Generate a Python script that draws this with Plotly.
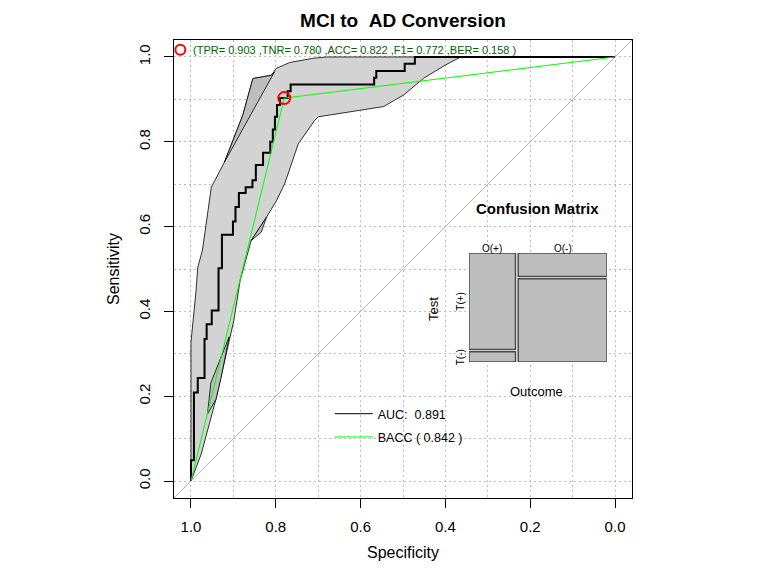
import plotly.graph_objects as go

# ROC curve (step vertices): specificity / sensitivity
roc_spec = [1.0, 0.993, 0.984, 0.968, 0.963, 0.951, 0.935, 0.927, 0.901, 0.895,
            0.887, 0.871, 0.855, 0.847, 0.830, 0.813, 0.807, 0.802, 0.797, 0.790,
            0.772, 0.765, 0.568, 0.563, 0.496, 0.472, 0.0]
roc_sens = [0.0, 0.049, 0.209, 0.243, 0.335, 0.370, 0.402, 0.502, 0.581, 0.612,
            0.646, 0.679, 0.693, 0.709, 0.745, 0.774, 0.800, 0.829, 0.859, 0.887,
            0.903, 0.919, 0.935, 0.951, 0.967, 0.984, 1.0]

# confidence band of sensitivity
ci_upper_spec = [1.0, 1.0, 0.988, 0.984, 0.973, 0.965, 0.952, 0.921, 0.878, 0.854,
                 0.810, 0.799, 0.767, 0.712, 0.68, 0.0]
ci_upper_sens = [0.0, 0.327, 0.449, 0.504, 0.544, 0.603, 0.693, 0.752, 0.862, 0.949,
                 0.957, 0.973, 0.987, 0.997, 1.0, 1.0]
ci_lower_spec = [1.0, 0.976, 0.941, 0.929, 0.899, 0.884, 0.858, 0.822, 0.799, 0.779,
                 0.755, 0.747, 0.708, 0.699, 0.546, 0.499, 0.451, 0.400, 0.364, 0.0]
ci_lower_sens = [0.0, 0.063, 0.193, 0.244, 0.378, 0.473, 0.567, 0.622, 0.660, 0.701,
                 0.772, 0.795, 0.851, 0.859, 0.883, 0.910, 0.950, 0.981, 1.0, 1.0]

# darker overlapping slivers of the band
patches = [
    ([0.921, 0.878, 0.854, 0.810, 0.803], [0.752, 0.862, 0.949, 0.957, 0.965]),
    ([0.961, 0.941, 0.929, 0.910, 0.953], [0.158, 0.193, 0.244, 0.340, 0.232]),
    ([0.858, 0.834, 0.822], [0.567, 0.587, 0.622]),
]

# balanced accuracy curve through the optimal cut
opt_spec = 0.780
opt_sens = 0.903
bacc_spec = [1.0, opt_spec, 0.0]
bacc_sens = [0.0, opt_sens, 1.0]

auc = 0.891
bacc = 0.842
metric_names = ['TPR', 'TNR', 'ACC', 'F1', 'BER']
metric_values = [0.903, 0.780, 0.822, 0.772, 0.158]

# confusion matrix counts
tp, fn, fp, tn = 28, 3, 13, 46

ticks = [1.0, 0.8, 0.6, 0.4, 0.2, 0.0]
x_range = [1.04, -0.04]
y_range = [-0.04, 1.04]

FONT = 'Liberation Sans, Arial, sans-serif'
GRID = '#BDBDBD'

fig = go.Figure()

# CI band
fig.add_trace(go.Scatter(x=ci_upper_spec + ci_lower_spec[::-1],
                         y=ci_upper_sens + ci_lower_sens[::-1],
                         fill='toself', fillcolor='#D3D3D3', mode='lines',
                         line=dict(color='black', width=0.8),
                         showlegend=False, hoverinfo='skip'))
for px_, py_ in patches:
    fig.add_trace(go.Scatter(x=px_ + [px_[0]], y=py_ + [py_[0]], fill='toself',
                             fillcolor='#BEBEBE', mode='lines',
                             line=dict(color='black', width=0.8),
                             showlegend=False, hoverinfo='skip'))

# chance diagonal
diag_x = list(x_range)
diag_y = [1 - v for v in diag_x]
fig.add_trace(go.Scatter(x=diag_x, y=diag_y, mode='lines',
                         line=dict(color='#B4B4B4', width=1), showlegend=False))

fig.add_trace(go.Scatter(x=roc_spec, y=roc_sens, mode='lines', line_shape='vh',
                         line=dict(color='black', width=2), showlegend=False))
fig.add_trace(go.Scatter(x=bacc_spec, y=bacc_sens, mode='lines',
                         line=dict(color='#00FF00', width=1), showlegend=False))
fig.add_trace(go.Scatter(x=[opt_spec], y=[opt_sens], mode='markers',
                         marker=dict(symbol='circle-open', size=12, color='red',
                                     line=dict(width=2, color='red')),
                         showlegend=False))
# legend marker of the metrics line
fig.add_trace(go.Scatter(x=[1.025], y=[1.017], mode='markers',
                         marker=dict(symbol='circle-open', size=10, color='red',
                                     line=dict(width=2, color='red')),
                         showlegend=False))

# legend entries
fig.add_trace(go.Scatter(x=[None], y=[None], mode='lines', legendgroup='a',
                         line=dict(color='black', width=1),
                         name='AUC:\u00a0 %.3f' % auc))
fig.add_trace(go.Scatter(x=[None], y=[None], mode='lines', legendgroup='b',
                         line=dict(color='#00FF00', width=1),
                         name='BACC ( %.3f )' % bacc))

# mosaic plot of the confusion matrix
gap = 0.02
n = tp + fn + fp + tn
w1 = (tp + fn) / n
w2 = (fp + tn) / n
col_left = [0.0, w1 + gap]
col_w = [w1, w2]
neg_frac = [fn / (tp + fn), tn / (fp + tn)]
bx, by, bb, bw = [], [], [], []
for i in range(2):
    cx = col_left[i] + col_w[i] / 2
    # T(-) bottom, T(+) top
    bx += [cx, cx]
    bb += [0.0, neg_frac[i] + gap]
    by += [neg_frac[i], 1 - neg_frac[i]]
    bw += [col_w[i], col_w[i]]
fig.add_trace(go.Bar(x=bx, y=by, base=bb, width=bw, xaxis='x2', yaxis='y2',
                     marker=dict(color='#BEBEBE', line=dict(color='#4A4A4A', width=1.5)),
                     showlegend=False, hoverinfo='skip'))

ann = []
metrics_txt = '(' + ' ,'.join('%s= %.3f' % (k, v) for k, v in zip(metric_names, metric_values)) + ' )'
ann.append(dict(text=metrics_txt, xref='paper', yref='paper', x=0.038, y=0.978,
                xanchor='left', yanchor='middle', showarrow=False,
                font=dict(size=11, color='#006400', family=FONT)))
ann.append(dict(text='<b>Confusion Matrix</b>', xref='paper', yref='paper',
                x=0.793, y=0.633, xanchor='center', yanchor='middle', showarrow=False,
                font=dict(size=15, color='black', family=FONT)))
for i, lab in enumerate(['O(+)', 'O(-)']):
    ann.append(dict(text=lab, xref='x2', yref='y2', x=col_left[i] + col_w[i] / 2,
                    y=1 + gap, xanchor='center', yanchor='bottom', showarrow=False, yshift=-3,
                    font=dict(size=10, color='black', family=FONT)))
ann.append(dict(text='T(+)', xref='x2', yref='y2', x=0, y=(neg_frac[0] + gap + 1 + gap) / 2,
                xanchor='right', yanchor='middle', textangle=-90, showarrow=False, xshift=-1,
                font=dict(size=10, color='black', family=FONT)))
ann.append(dict(text='T(-)', xref='x2', yref='y2', x=0, y=neg_frac[0] / 2,
                xanchor='right', yanchor='middle', textangle=-90, showarrow=False, xshift=-1,
                font=dict(size=10, color='black', family=FONT)))
ann.append(dict(text='Test', xref='x2', yref='y2', x=0, y=0.5,
                xanchor='right', yanchor='middle', textangle=-90, showarrow=False, xshift=-26,
                font=dict(size=13, color='black', family=FONT)))
ann.append(dict(text='Outcome', xref='x2', yref='y2', x=0.5, y=0,
                xanchor='center', yanchor='top', showarrow=False, yshift=-20,
                font=dict(size=13, color='black', family=FONT)))

axis_common = dict(showline=True, mirror=True, linecolor='black', linewidth=1,
                   ticks='outside', ticklen=9, tickcolor='black',
                   tickvals=ticks, tickformat='.1f',
                   showgrid=True, gridcolor=GRID, gridwidth=1, griddash='2px,3px',
                   zeroline=False,
                   tickfont=dict(size=15, color='black', family=FONT),
                   minor=dict(dtick=0.1, tick0=0, showgrid=True, gridcolor=GRID,
                              gridwidth=1, griddash='2px,3px', ticks=''))

fig.update_layout(
    width=768, height=576,
    margin=dict(l=166, r=144, t=32, b=86),
    paper_bgcolor='white', plot_bgcolor='white',
    font=dict(family=FONT, color='black'),
    title=dict(text='<b>MCI to \u00a0AD Conversion</b>', x=0.5, xref='paper', xanchor='center',
               y=0.979, yanchor='middle', font=dict(size=19, family=FONT, color='black')),
    xaxis=dict(range=x_range, ticklabelstandoff=6,
               title=dict(text='Specificity', standoff=12, font=dict(size=16)),
               **axis_common),
    yaxis=dict(range=y_range, tickangle=-90, ticklabelstandoff=8,
               title=dict(text='Sensitivity', standoff=12, font=dict(size=16)),
               **axis_common),
    xaxis2=dict(domain=[0.644, 0.945], range=[0, 1 + gap], visible=False, anchor='y2'),
    yaxis2=dict(domain=[0.297, 0.535], range=[0, 1 + gap], visible=False, anchor='x2'),
    barmode='overlay',
    legend=dict(x=0.34, y=0.216, xanchor='left', yanchor='top', bgcolor='rgba(0,0,0,0)',
                font=dict(size=12.5, family=FONT), itemwidth=38, tracegroupgap=4),
    annotations=ann,
)

fig.write_html("out.html")
